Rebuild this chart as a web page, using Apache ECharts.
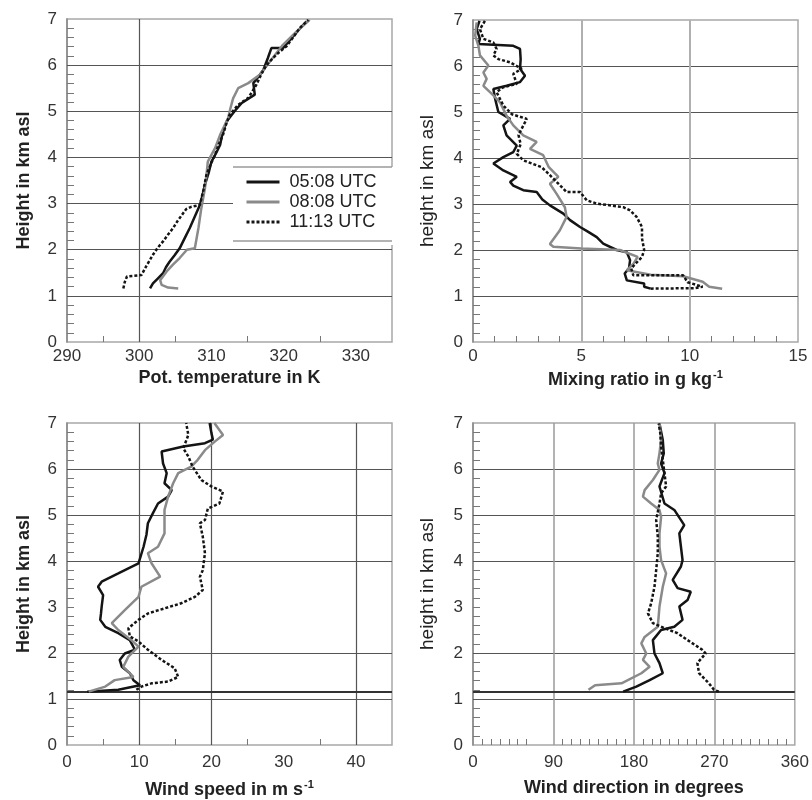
<!DOCTYPE html>
<html>
<head>
<meta charset="utf-8">
<script src="https://cdn.jsdelivr.net/npm/echarts@6/dist/echarts.min.js"></script>
<style>html,body{margin:0;padding:0;background:#fff}#c{width:812px;height:800px}</style>
</head>
<body>
<div id="c"></div>
<script>
// ---------- DATA ----------
const seriesNames = ['05:08 UTC', '08:08 UTC', '11:13 UTC'];

// Potential temperature [K, km]
const theta0508 = [[301.5,1.16],[301.9,1.27],[302.6,1.38],[303.3,1.49],[303.7,1.62],[304.2,1.74],[304.9,1.88],[305.6,2.03],[306.3,2.25],[307.0,2.47],[307.7,2.72],[308.4,2.97],[308.8,3.2],[309.1,3.41],[309.6,3.66],[310.0,3.91],[310.6,4.08],[311.2,4.27],[311.5,4.5],[312.1,4.78],[313.2,5.0],[314.2,5.18],[316.0,5.36],[315.8,5.61],[316.5,5.75],[317.2,5.9],[317.8,6.15],[318.3,6.37],[319.9,6.37],[321.3,6.62],[322.3,6.8],[323.2,6.95]];
const theta0808 = [[305.4,1.16],[304.0,1.18],[303.1,1.24],[302.9,1.34],[303.8,1.53],[304.7,1.68],[305.6,1.82],[306.6,2.0],[307.7,2.03],[308.2,2.47],[308.6,2.9],[309.1,3.33],[309.3,3.6],[309.5,3.91],[310.5,4.2],[311.2,4.49],[312.3,4.85],[312.6,5.05],[313.0,5.28],[313.7,5.5],[315.1,5.61],[316.7,5.79],[318.1,6.08],[319.9,6.44],[321.8,6.73],[323.6,6.98]];
const theta1113 = [[297.8,1.16],[298.0,1.3],[298.3,1.42],[300.3,1.45],[301.0,1.65],[301.9,1.89],[302.6,2.05],[303.3,2.18],[304.0,2.33],[304.7,2.47],[305.3,2.62],[305.9,2.75],[306.5,2.88],[307.2,2.93],[308.4,2.97],[308.9,3.3],[309.3,3.62],[309.9,3.85],[310.5,4.06],[311.0,4.28],[311.6,4.49],[312.0,4.7],[312.5,4.92],[313.7,5.14],[315.1,5.29],[316.2,5.57],[316.9,5.8],[317.6,6.0],[319.0,6.23],[320.4,6.41],[321.3,6.6],[322.2,6.8],[323.4,6.98]];

// Mixing ratio [g/kg, km]
const mix0508 = [[8.2,1.16],[7.9,1.2],[7.9,1.27],[7.1,1.34],[7.0,1.49],[7.2,1.6],[7.25,1.78],[7.1,1.95],[6.63,2.0],[6.01,2.14],[5.71,2.28],[5.3,2.4],[4.94,2.5],[4.48,2.65],[4.17,2.79],[3.55,2.97],[3.2,3.1],[2.94,3.26],[2.32,3.3],[1.86,3.4],[1.71,3.48],[2.02,3.59],[1.4,3.73],[0.94,3.88],[1.4,4.02],[1.86,4.13],[2.02,4.27],[1.55,4.49],[1.4,4.71],[1.71,4.85],[1.17,5.0],[1.02,5.29],[0.94,5.5],[1.55,5.57],[2.17,5.65],[2.4,5.79],[2.17,5.94],[2.2,6.15],[2.17,6.37],[1.86,6.44],[0.25,6.48],[0.32,6.59],[0.17,6.8],[0.3,6.98]];
const mix0808 = [[11.5,1.16],[10.9,1.2],[10.6,1.31],[9.7,1.43],[8.2,1.46],[7.1,1.56],[7.4,1.7],[7.6,1.85],[6.78,2.0],[5.0,2.03],[3.71,2.07],[3.55,2.13],[4.01,2.43],[4.32,2.72],[4.24,2.93],[3.86,3.22],[3.55,3.44],[3.94,3.59],[3.5,3.8],[3.32,3.98],[3.24,4.06],[2.63,4.2],[2.94,4.35],[2.32,4.49],[1.86,4.71],[1.55,4.92],[1.25,5.21],[0.94,5.36],[0.48,5.57],[0.63,5.72],[0.48,5.86],[0.71,6.01],[0.32,6.23],[0.25,6.44],[0.1,6.66],[0.17,6.95]];
const mix1113 = [[8.2,1.16],[10.2,1.17],[10.6,1.2],[9.9,1.3],[9.7,1.45],[7.4,1.45],[7.3,1.6],[7.5,1.7],[7.8,1.85],[7.9,2.0],[7.8,2.25],[7.8,2.5],[7.55,2.72],[7.25,2.86],[6.94,2.93],[5.71,3.01],[5.25,3.08],[4.94,3.26],[4.32,3.26],[3.86,3.48],[3.5,3.65],[3.17,3.8],[2.32,3.95],[2.02,4.09],[2.2,4.3],[2.1,4.5],[2.48,4.85],[1.8,4.95],[1.4,5.14],[1.09,5.43],[1.4,5.54],[2.02,5.61],[1.86,5.83],[2.25,5.94],[1.71,6.08],[1.17,6.15],[0.94,6.23],[1.09,6.37],[0.94,6.51],[0.48,6.59],[0.32,6.8],[0.55,6.98]];

// Wind speed [m/s, km]
const ws0508 = [[2.8,1.16],[7.1,1.2],[10.1,1.3],[9.2,1.41],[8.7,1.56],[7.6,1.7],[7.3,1.85],[8.0,1.99],[9.4,2.07],[8.7,2.28],[7.1,2.43],[5.3,2.57],[4.6,2.72],[4.7,2.85],[4.8,3.01],[5.0,3.26],[4.3,3.44],[4.8,3.55],[7.1,3.73],[9.9,3.95],[10.6,4.31],[11.0,4.57],[11.2,4.82],[11.9,5.04],[12.6,5.25],[14.0,5.4],[14.5,5.54],[13.5,5.69],[13.8,5.91],[13.3,6.12],[13.1,6.38],[16.1,6.49],[19.1,6.56],[20.2,6.64],[20.0,6.78],[19.75,7.0]];
const ws0808 = [[3.0,1.16],[5.3,1.27],[6.6,1.41],[9.2,1.48],[7.8,1.7],[8.5,1.92],[9.9,2.14],[8.9,2.28],[7.1,2.5],[6.2,2.65],[8.0,2.93],[9.9,3.22],[10.3,3.44],[12.9,3.66],[11.7,3.95],[11.2,4.17],[12.6,4.31],[13.5,4.6],[13.5,5.11],[14.0,5.4],[14.7,5.69],[15.4,5.91],[17.2,6.05],[18.1,6.2],[19.1,6.41],[20.5,6.6],[21.6,6.74],[20.4,7.0]];
const ws1113 = [[9.6,1.2],[10.3,1.27],[11.7,1.34],[14.0,1.38],[15.4,1.48],[14.9,1.67],[13.1,1.85],[11.2,2.07],[9.9,2.25],[8.7,2.36],[8.5,2.54],[9.9,2.72],[11.2,2.86],[13.5,2.97],[15.8,3.08],[17.7,3.22],[18.8,3.37],[18.4,3.66],[18.8,3.8],[19.1,4.17],[18.8,4.53],[18.4,4.82],[19.1,4.89],[19.5,5.14],[21.1,5.25],[21.6,5.51],[20.0,5.62],[18.6,5.76],[17.4,6.05],[16.8,6.27],[16.1,6.45],[16.8,6.74],[16.5,7.0]];

// Wind direction [deg, km]
const wd0508 = [[168.0,1.16],[182.7,1.27],[197.6,1.41],[212.3,1.56],[208.6,1.78],[203.0,1.99],[201.2,2.28],[210.4,2.5],[225.2,2.57],[234.4,2.72],[230.8,3.01],[240.0,3.15],[243.6,3.33],[228.9,3.41],[223.4,3.59],[232.6,3.88],[234.4,4.02],[232.6,4.31],[230.8,4.6],[236.3,4.78],[225.2,5.11],[214.2,5.25],[208.6,5.62],[214.2,5.91],[210.4,6.12],[213.4,6.34],[212.3,6.63],[208.6,6.99]];
const wd0808 = [[129.2,1.2],[136.6,1.3],[166.1,1.34],[188.3,1.56],[197.6,1.7],[190.1,1.85],[193.8,1.99],[188.3,2.21],[192.0,2.35],[206.7,2.57],[208.6,3.01],[212.3,3.44],[216.0,3.73],[210.4,4.02],[208.6,4.31],[208.6,4.6],[210.4,4.96],[208.6,5.11],[199.3,5.25],[190.1,5.4],[192.0,5.54],[201.2,5.76],[208.6,5.98],[206.7,6.12],[208.6,6.34],[210.4,6.63],[208.6,6.99]];
const wd1113 = [[275.0,1.16],[269.5,1.2],[264.0,1.34],[252.9,1.56],[251.0,1.78],[260.2,1.99],[256.5,2.07],[240.0,2.28],[228.9,2.43],[214.2,2.54],[201.2,2.65],[195.7,2.86],[199.3,3.08],[203.0,3.44],[204.9,3.8],[206.7,4.17],[206.7,4.53],[204.9,4.89],[208.6,5.25],[210.4,5.47],[216.0,5.62],[214.2,5.91],[212.3,6.2],[210.4,6.49],[209.5,6.78],[207.7,6.99]];

// Tick labels / tick positions
const heightLabels = [0, 1, 2, 3, 4, 5, 6, 7];
const thetaLabels = [290, 300, 310, 320, 330];
const thetaTicks = [295, 305, 315, 325];
const mixLabels = [0, 5, 10, 15];
const mixTicks = [1, 2, 3, 4, 6, 7, 8, 9, 11, 12, 13, 14];
const wsLabels = [0, 10, 20, 30, 40];
const wsTicks = [5, 15, 25, 35];
const wdLabels = [0, 90, 180, 270, 360];
const wdTicks = [10, 20, 30, 40, 50, 60, 100, 110, 120, 130, 140, 150, 160, 170, 190, 200, 210, 220, 230, 240, 250, 260, 280, 290, 300, 310, 320, 330, 340, 350];
// Grid reference lines
const thetaHGrid = [1, 2, 3, 4, 5, 6], thetaVGrid = [300];
const mixHGrid = [1, 2, 3, 4, 5, 6], mixVGrid = [5, 10];
const wsHGrid = [1, 2, 4, 5, 6], wsVGrid = [10, 20, 40];
const wdHGrid = [1, 2, 4, 5, 6], wdVGrid = [90, 180, 270];
const groundLevel = 1.15;

// ---------- CHART ----------
const FONT = '"Liberation Sans", Arial, Helvetica, sans-serif';
const heightTicks = [];
for (let i = 1; i < 35; i++) heightTicks.push(Math.round(i * 2) / 10);

const grids = [
  {left: 67, top: 19, width: 325, height: 323},
  {left: 473, top: 20, width: 325, height: 322},
  {left: 67, top: 423, width: 325, height: 322},
  {left: 473, top: 423, width: 325, height: 322}
].map(g => Object.assign({show: true, borderColor: '#a8a8a8', borderWidth: 1.5, backgroundColor: 'transparent'}, g));

function xAx(i, min, max, labels, ticks, name, sup, gap, lblMargin) {
  return {
    type: 'value', gridIndex: i, min: min, max: max,
    axisLine: {show: false},
    splitLine: {show: false},
    axisTick: {show: true, inside: true, length: 6, customValues: ticks, lineStyle: {color: '#777', width: 1}},
    axisLabel: {customValues: labels, color: '#333', fontSize: 17, fontFamily: FONT, margin: lblMargin},
    name: sup ? '{a|' + name + '}{s|' + sup + '}' : name,
    nameLocation: 'middle', nameGap: gap,
    nameTextStyle: {
      fontSize: 18, fontWeight: 'bold', color: '#222', fontFamily: FONT,
      rich: {
        a: {fontSize: 18, fontWeight: 'bold', color: '#222', fontFamily: FONT, lineHeight: 22},
        s: {fontSize: 11, fontWeight: 'bold', color: '#222', fontFamily: FONT, verticalAlign: 'top', lineHeight: 22, padding: [0, 0, 0, 1]}
      }
    }
  };
}
function yAx(i, name, bold, gap) {
  return {
    type: 'value', gridIndex: i, min: 0, max: 7,
    axisLine: {show: true, lineStyle: {color: '#888', width: 1.5}},
    splitLine: {show: false},
    axisTick: {show: true, inside: true, length: 7, customValues: heightTicks, lineStyle: {color: '#777', width: 1}},
    axisLabel: {customValues: heightLabels, color: '#333', fontSize: 17, fontFamily: FONT, margin: 10},
    name: name, nameLocation: 'middle', nameGap: gap,
    nameTextStyle: {fontSize: bold ? 18 : 19, fontWeight: bold ? 'bold' : 'normal', color: '#222', fontFamily: FONT}
  };
}

const BLACK = '#141414', GRAY = '#8a8a8a';
function dataSeries(i, a, b, c) {
  const mk = (name, data, color, type) => ({
    name: name, type: 'line', xAxisIndex: i, yAxisIndex: i, data: data,
    symbol: 'none', smooth: false, z: 3,
    lineStyle: {color: color, width: 2.5, type: type, cap: 'butt'},
    itemStyle: {color: color}
  });
  return [
    mk(seriesNames[0], a, BLACK, 'solid'),
    mk(seriesNames[1], b, GRAY, 'solid'),
    mk(seriesNames[2], c, BLACK, [3, 2])
  ];
}
function gridSeries(i, hs, vs, hColor, vColor, vWidth, ground) {
  const lines = [];
  hs.forEach(v => lines.push({yAxis: v, lineStyle: {color: hColor, width: 1.2, type: 'solid'}}));
  vs.forEach(v => lines.push({xAxis: v, lineStyle: {color: vColor, width: vWidth, type: 'solid'}}));
  if (ground != null) lines.push({yAxis: ground, lineStyle: {color: '#333', width: 1.8, type: 'solid'}});
  return {
    type: 'line', xAxisIndex: i, yAxisIndex: i, data: [], silent: true, z: 1,
    markLine: {silent: true, symbol: ['none', 'none'], z: 1, animation: false, label: {show: false}, data: lines}
  };
}

const option = {
  animation: false,
  backgroundColor: '#fff',
  grid: grids,
  xAxis: [
    xAx(0, 290, 335, thetaLabels, thetaTicks, 'Pot. temperature in K', null, 27, 6),
    xAx(1, 0, 15, mixLabels, mixTicks, 'Mixing ratio in g kg', '-1', 27, 6),
    xAx(2, 0, 45, wsLabels, wsTicks, 'Wind speed in m s', '-1', 34, 9),
    xAx(3, 0, 360, wdLabels, wdTicks, 'Wind direction in degrees', null, 34, 9)
  ],
  yAxis: [
    yAx(0, 'Height in km asl', true, 34),
    yAx(1, 'height in km asl', false, 36),
    yAx(2, 'Height in km asl', true, 34),
    yAx(3, 'height in km asl', false, 36)
  ],
  legend: {
    data: seriesNames, orient: 'vertical', left: 233, top: 167,
    icon: 'inherit',
    itemWidth: 33, itemHeight: 14, itemGap: 2,
    itemStyle: {opacity: 0},
    lineStyle: {width: 3},
    padding: [6, 30, 14, 12], backgroundColor: '#fff', selectedMode: false, z: 10,
    textStyle: {fontSize: 18, color: '#222', fontFamily: FONT, padding: [0, 0, 0, 5]}
  },
  graphic: [
    {type: 'line', z: 100, shape: {x1: 233, y1: 167, x2: 392, y2: 167}, style: {stroke: '#9a9a9a', lineWidth: 1.5}},
    {type: 'line', z: 100, shape: {x1: 233, y1: 241, x2: 392, y2: 241}, style: {stroke: '#9a9a9a', lineWidth: 1.5}}
  ],
  series: [].concat(
    gridSeries(0, thetaHGrid, thetaVGrid, '#555', '#555', 1.2, null),
    gridSeries(1, mixHGrid, mixVGrid, '#555', '#b0b0b0', 2, null),
    gridSeries(2, wsHGrid, wsVGrid, '#555', '#555', 1.2, groundLevel),
    gridSeries(3, wdHGrid, wdVGrid, '#555', '#9a9a9a', 1.5, groundLevel),
    dataSeries(0, theta0508, theta0808, theta1113),
    dataSeries(1, mix0508, mix0808, mix1113),
    dataSeries(2, ws0508, ws0808, ws1113),
    dataSeries(3, wd0508, wd0808, wd1113)
  )
};
const chart = echarts.init(document.getElementById('c'), null, {renderer: 'canvas'});
chart.setOption(option);
</script>
</body>
</html>
